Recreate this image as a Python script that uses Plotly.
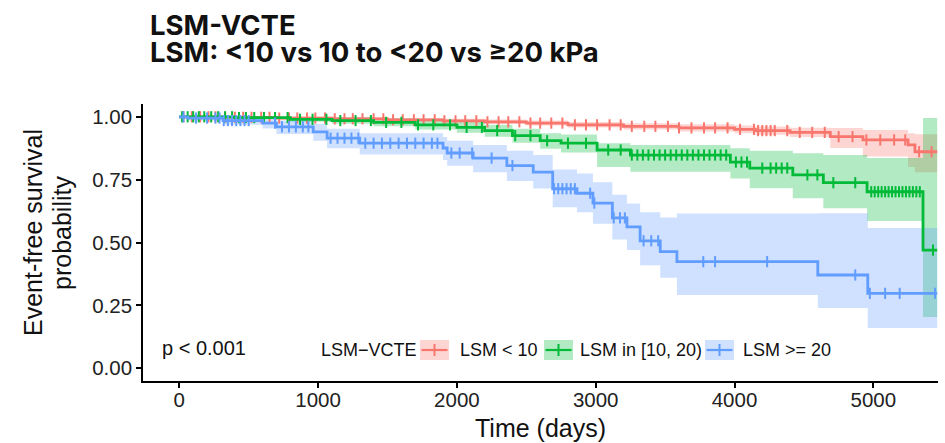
import plotly.graph_objects as go

# ---------------- data ----------------
groups = ["LSM < 10", "LSM in [10, 20)", "LSM >= 20"]
colors = ["#F8766D", "#00BA38", "#619CFF"]
fills = ["rgba(248,118,109,0.3)", "rgba(0,186,56,0.3)", "rgba(97,156,255,0.3)"]
end_time = 5460

red_t = [0, 300, 700, 1100, 1500, 1900, 2200, 2500, 2800, 3200, 3600, 4000, 4150, 4400, 4690, 4925, 5250, 5300]
red_s = [1.0, 0.998, 0.995, 0.992, 0.988, 0.984, 0.980, 0.975, 0.968, 0.962, 0.956, 0.950, 0.945, 0.938, 0.921, 0.908, 0.888, 0.861]
red_lo = [1.0, 0.994, 0.990, 0.986, 0.981, 0.976, 0.971, 0.965, 0.957, 0.950, 0.942, 0.935, 0.929, 0.920, 0.876, 0.842, 0.800, 0.780]
red_hi = [1.0, 1.0, 1.0, 0.998, 0.995, 0.992, 0.989, 0.985, 0.979, 0.974, 0.970, 0.965, 0.961, 0.956, 0.955, 0.948, 0.935, 0.931]
red_cens = [30, 90, 150, 210, 260, 330, 400, 460, 520, 590, 650, 720, 790, 850, 920, 980, 1050, 1120,
            1190, 1250, 1320, 1400, 1470, 1540, 1610, 1690, 1760, 1840, 1910, 1990, 2060, 2140, 2220,
            2300, 2370, 2450, 2530, 2600, 2680, 2760, 2850, 2930, 3010, 3100, 3180, 3260, 3350, 3430,
            3520, 3600, 3690, 3780, 3860, 3950, 4040, 4140, 4170, 4200, 4230, 4260, 4290, 4380, 4470,
            4560, 4650, 4750, 4850, 4950, 5050, 5150, 5230, 5330, 5420]

green_t = [0, 400, 800, 1100, 1400, 1700, 2000, 2200, 2400, 2600, 2750, 3010, 3250, 3970, 4110, 4420, 4640, 4955, 5358]
green_s = [1.0, 0.997, 0.990, 0.985, 0.978, 0.968, 0.958, 0.945, 0.925, 0.905, 0.895, 0.868, 0.848, 0.820, 0.796, 0.769, 0.738, 0.702, 0.470]
green_lo = [1.0, 0.990, 0.980, 0.972, 0.962, 0.950, 0.937, 0.921, 0.897, 0.873, 0.858, 0.800, 0.782, 0.755, 0.716, 0.676, 0.636, 0.586, 0.204]
green_hi = [1.0, 1.0, 1.0, 0.998, 0.993, 0.986, 0.978, 0.968, 0.952, 0.935, 0.930, 0.895, 0.888, 0.875, 0.865, 0.855, 0.848, 0.836, 0.995]
green_cens = [20, 60, 100, 140, 180, 230, 280, 330, 380, 430, 480, 540, 610, 690, 780, 870, 960, 1060,
              1160, 1270, 1380, 1490, 1600, 1720, 1830, 1950, 2070, 2180, 2290, 2420, 2530, 2650, 2800,
              2930, 3090, 3180, 3260, 3300, 3340, 3380, 3420, 3460, 3500, 3540, 3580, 3620, 3660, 3700,
              3740, 3780, 3820, 3860, 3900, 3940, 4010, 4050, 4090, 4200, 4260, 4300, 4340, 4380, 4525,
              4597, 4712, 4870, 4985, 5010, 5035, 5060, 5085, 5110, 5135, 5160, 5185, 5210, 5235, 5260,
              5285, 5310, 5335, 5430]

blue_t = [0, 60, 315, 600, 700, 965, 1065, 1300, 1900, 1930, 2117, 2360, 2550, 2690, 2865, 2980, 3120, 3225, 3320, 3465, 3585, 4600, 4960]
blue_s = [1.0, 0.995, 0.985, 0.975, 0.960, 0.940, 0.915, 0.895, 0.876, 0.856, 0.836, 0.806, 0.780, 0.714, 0.696, 0.657, 0.598, 0.562, 0.507, 0.464, 0.424, 0.371, 0.298]
blue_lo = [1.0, 0.985, 0.968, 0.953, 0.932, 0.905, 0.875, 0.850, 0.828, 0.805, 0.780, 0.745, 0.715, 0.640, 0.620, 0.575, 0.512, 0.470, 0.410, 0.360, 0.291, 0.240, 0.160]
blue_hi = [1.0, 1.0, 1.0, 0.997, 0.985, 0.972, 0.952, 0.935, 0.920, 0.905, 0.888, 0.865, 0.848, 0.790, 0.775, 0.740, 0.690, 0.655, 0.620, 0.600, 0.616, 0.617, 0.558]
blue_cens = [30, 120, 200, 260, 290, 320, 350, 380, 410, 440, 470, 500, 690, 740, 790, 840, 890, 930,
             1090, 1140, 1190, 1240, 1290, 1340, 1400, 1460, 1520, 1580, 1640, 1700, 1760, 1820, 1860,
             1960, 2020, 2110, 2250, 2400, 2700, 2730, 2760, 2790, 2820, 2850, 2960, 2990, 3130, 3175,
             3210, 3345, 3400, 3450, 3775, 3860, 4235, 4870, 4975, 5085, 5190, 5445]

p_text = "p < 0.001"
legend_title = "LSM\u2212VCTE"
title_lines = ["LSM-VCTE", "LSM: <10 vs 10 to <20 vs \u226520 kPa"]
x_ticks = [0, 1000, 2000, 3000, 4000, 5000]
y_ticks = [0.0, 0.25, 0.5, 0.75, 1.0]
y_ticklabels = ["0.00", "0.25", "0.50", "0.75", "1.00"]

series = [
    (red_t, red_s, red_lo, red_hi, red_cens),
    (green_t, green_s, green_lo, green_hi, green_cens),
    (blue_t, blue_s, blue_lo, blue_hi, blue_cens),
]

# ---------------- figure ----------------
W, H = 945, 443
ML, MR, MT, MB = 143, 7, 104, 62
PW, PH = W - ML - MR, H - MT - MB


def px_x(px):
    return (px - ML) / PW


def px_y(py):
    return (H - MB - py) / PH


def step_lookup(ts, ss, t):
    v = ss[0]
    for ti, si in zip(ts, ss):
        if ti <= t:
            v = si
    return v


fig = go.Figure()

# ribbons
for (t, s, lo, hi, c), fc in zip(series, fills):
    xs = t + [end_time]
    fig.add_trace(go.Scatter(x=xs, y=hi + [hi[-1]], mode="lines", line=dict(width=0, shape="hv"),
                             hoverinfo="skip", showlegend=False))
    fig.add_trace(go.Scatter(x=xs, y=lo + [lo[-1]], mode="lines", line=dict(width=0, shape="hv"),
                             fill="tonexty", fillcolor=fc, hoverinfo="skip", showlegend=False))

# curves + censor marks
for (t, s, lo, hi, c), col, name in zip(series, colors, groups):
    fig.add_trace(go.Scatter(x=t + [end_time], y=s + [s[-1]], mode="lines",
                             line=dict(color=col, width=2.8, shape="hv"), name=name, showlegend=False))
    fig.add_trace(go.Scatter(x=c, y=[step_lookup(t, s, ci) for ci in c], mode="markers",
                             marker=dict(symbol="line-ns", size=8, line=dict(color=col, width=2)),
                             showlegend=False, hoverinfo="skip"))

FONT = "Liberation Sans, Arial, sans-serif"
TFONT = "Inter, Noto Sans, sans-serif"
ann = []
# titles: two bold lines above the panel (tight line spacing like the reference)
for txt, cy in zip(title_lines, [24.5, 51.5]):
    ann.append(dict(text="<b>" + txt + "</b>", x=px_x(149), y=px_y(cy), xref="paper", yref="paper",
                    xanchor="left", yanchor="middle", showarrow=False, borderpad=0, height=25,
                    font=dict(family=TFONT, size=27.5, color="#111")))
# y axis title (two lines)
for txt, cx in [("Event-free survival", 33), ("probability", 62)]:
    ann.append(dict(text=txt, x=px_x(cx), y=px_y(233), xref="paper", yref="paper", textangle=-90,
                    xanchor="center", yanchor="middle", showarrow=False,
                    font=dict(family=FONT, size=25, color="#111")))
# x axis title
ann.append(dict(text="Time (days)", x=px_x(540), y=px_y(428), xref="paper", yref="paper",
                xanchor="center", yanchor="middle", showarrow=False, font=dict(family=FONT, size=25, color="#111")))
# p-value
ann.append(dict(text=p_text, x=px_x(160), y=px_y(348), xref="paper", yref="paper",
                xanchor="left", yanchor="middle", showarrow=False, font=dict(family=FONT, size=20, color="#111")))

# manual legend
shapes = []
ann.append(dict(text=legend_title, x=px_x(419), y=px_y(350), xref="paper", yref="paper",
                xanchor="right", yanchor="middle", showarrow=False, font=dict(family=FONT, size=18, color="#111")))
key_left = [420, 544, 705]
text_left = [458, 578, 741]
for kl, tl, col, fc, name in zip(key_left, text_left, colors, fills, groups):
    shapes.append(dict(type="rect", xref="paper", yref="paper", x0=px_x(kl), x1=px_x(kl + 29),
                       y0=px_y(360), y1=px_y(340), fillcolor=fc, line=dict(width=0), layer="above"))
    shapes.append(dict(type="line", xref="paper", yref="paper", x0=px_x(kl + 1.5), x1=px_x(kl + 27.5),
                       y0=px_y(350), y1=px_y(350), line=dict(color=col, width=2.2), layer="above"))
    shapes.append(dict(type="line", xref="paper", yref="paper", x0=px_x(kl + 14.5), x1=px_x(kl + 14.5),
                       y0=px_y(344), y1=px_y(356), line=dict(color=col, width=2), layer="above"))
    ann.append(dict(text=name, x=px_x(tl), y=px_y(350), xref="paper", yref="paper",
                    xanchor="left", yanchor="middle", showarrow=False, font=dict(family=FONT, size=18, color="#111")))

x0_day = -261.5
x1_day = 5466
fig.update_layout(
    width=W, height=H, margin=dict(l=ML, r=MR, t=MT, b=MB, pad=0),
    paper_bgcolor="white", plot_bgcolor="white",
    showlegend=False,
    font=dict(family=FONT, color="#111"),
    xaxis=dict(range=[x0_day, x1_day], tickvals=x_ticks, ticks="outside", ticklen=5, tickwidth=1.5,
               tickcolor="black", showline=True, linecolor="black", linewidth=1.6, showgrid=False,
               zeroline=False, ticklabelstandoff=-5, tickfont=dict(size=20.5, family=FONT, color="#222")),
    yaxis=dict(range=[-0.0505, 1.0509], tickvals=y_ticks, ticktext=y_ticklabels, ticks="outside", ticklen=5,
               tickwidth=1.5, tickcolor="black", showline=True, linecolor="black", linewidth=1.6,
               showgrid=False, zeroline=False, tickfont=dict(size=20.5, family=FONT, color="#222")),
    annotations=ann, shapes=shapes,
)

fig.write_html("out.html")
